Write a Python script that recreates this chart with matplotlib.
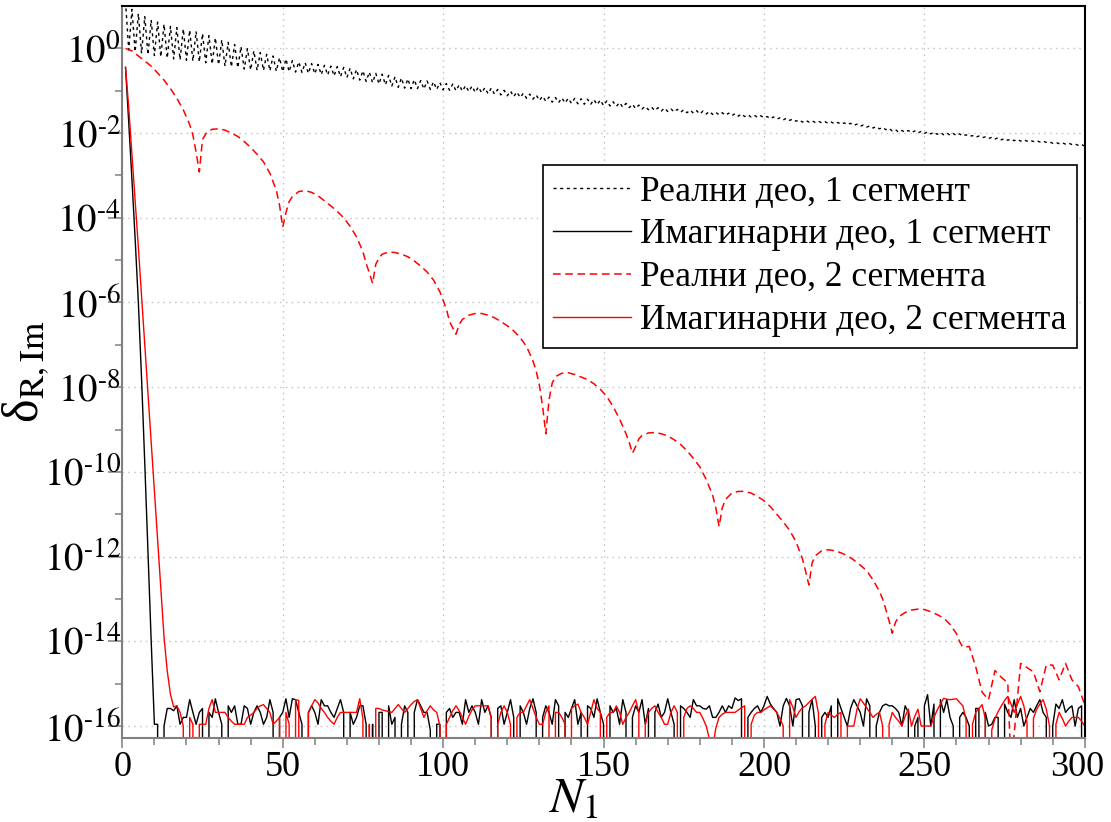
import numpy as np
import matplotlib
matplotlib.use("Agg")
import matplotlib.pyplot as plt
from matplotlib.ticker import FixedLocator, FuncFormatter, NullFormatter, MultipleLocator
from matplotlib.transforms import ScaledTranslation

plt.rcParams['font.family'] = ['Liberation Serif', 'DejaVu Serif']
plt.rcParams['mathtext.fontset'] = 'stix'

# Real part, 1 segment: log10 of delta for N = 1..300
re_1seg_log = [
    1.10, -0.04, 0.92, -0.08, 0.82, -0.12, 0.75, -0.15, 0.67, -0.17,
    0.62, -0.20, 0.57, -0.23, 0.52, -0.25, 0.49, -0.27, 0.46, -0.28,
    0.43, -0.30, 0.40, -0.32, 0.35, -0.34, 0.30, -0.37, 0.25, -0.39,
    0.20, -0.42, 0.14, -0.44, 0.09, -0.46, 0.04, -0.49, -0.01, -0.51,
    -0.06, -0.52, -0.10, -0.52, -0.14, -0.53, -0.18, -0.54, -0.22, -0.55,
    -0.25, -0.55, -0.29, -0.56, -0.32, -0.57, -0.34, -0.59, -0.36, -0.60,
    -0.38, -0.62, -0.40, -0.63, -0.42, -0.65, -0.43, -0.67, -0.45, -0.69,
    -0.47, -0.72, -0.50, -0.75, -0.53, -0.78, -0.56, -0.81, -0.59, -0.84,
    -0.61, -0.86, -0.64, -0.89, -0.67, -0.92, -0.70, -0.94, -0.72, -0.95,
    -0.74, -0.95, -0.76, -0.96, -0.77, -0.97, -0.79, -0.97, -0.81, -0.98,
    -0.83, -0.99, -0.84, -1.00, -0.86, -1.01, -0.88, -1.02, -0.89, -1.04,
    -0.91, -1.05, -0.93, -1.07, -0.94, -1.08, -0.97, -1.10, -0.99, -1.12,
    -1.01, -1.14, -1.03, -1.16, -1.06, -1.18, -1.08, -1.20, -1.10, -1.23,
    -1.13, -1.25, -1.15, -1.27, -1.16, -1.28, -1.17, -1.29, -1.18, -1.30,
    -1.18, -1.31, -1.19, -1.32, -1.20, -1.32, -1.21, -1.33, -1.22, -1.35,
    -1.24, -1.36, -1.26, -1.37, -1.28, -1.39, -1.30, -1.40, -1.32, -1.42,
    -1.34, -1.43, -1.37, -1.45, -1.39, -1.47, -1.40, -1.48, -1.41, -1.49,
    -1.43, -1.50, -1.44, -1.51, -1.45, -1.52, -1.46, -1.53, -1.47, -1.55,
    -1.48, -1.55, -1.49, -1.56, -1.51, -1.57, -1.52, -1.58, -1.53, -1.59,
    -1.54, -1.60, -1.55, -1.61, -1.57, -1.62, -1.58, -1.63, -1.59, -1.64,
    -1.61, -1.66, -1.62, -1.67, -1.64, -1.69, -1.65, -1.70, -1.67, -1.72,
    -1.69, -1.74, -1.70, -1.74, -1.71, -1.75, -1.72, -1.76, -1.73, -1.77,
    -1.74, -1.78, -1.75, -1.79, -1.76, -1.80, -1.77, -1.82, -1.79, -1.84,
    -1.81, -1.86, -1.83, -1.88, -1.85, -1.90, -1.87, -1.92, -1.89, -1.95,
    -1.92, -1.98, -1.94, -1.98, -1.94, -1.99, -1.95, -2.00, -1.96, -2.01,
    -1.97, -2.02, -1.98, -2.03, -1.99, -2.04, -2.00, -2.05, -2.01, -2.06,
    -2.02, -2.07, -2.04, -2.08, -2.06, -2.10, -2.07, -2.11, -2.09, -2.13,
    -2.10, -2.14, -2.11, -2.16, -2.13, -2.17, -2.14, -2.18, -2.15, -2.19,
    -2.16, -2.19, -2.17, -2.20, -2.18, -2.21, -2.19, -2.22, -2.21, -2.24,
    -2.22, -2.25, -2.23, -2.26, -2.24, -2.27, -2.26, -2.29, -2.27, -2.31,
]

# Imaginary part, 1 segment: fast decay (log10, N = 1..9), then round-off floor (x1e-16, N = 10..300)
im_1seg_head_log = [-0.45, -1.75, -3.10, -4.50, -6.00, -7.80, -9.80, -11.90, -14.00]
im_1seg_floor = [
    1.1, 1.1, 0, 1.0, 2.6, 2.6, 2.3, 3.0, 1.1, 1.6,
    1.6, 4.2, 2.1, 1.1, 2.1, 2.6, 0, 2.1, 1.6, 4.4,
    2.1, 1.1, 0, 3.0, 2.1, 3.0, 1.1, 1.1, 3.0, 2.6,
    1.1, 2.1, 3.0, 2.1, 1.1, 1.6, 4.2, 2.1, 0, 1.6,
    2.1, 4.4, 1.6, 4.4, 4.2, 2.1, 1.1, 0, 2.1, 3.0,
    2.1, 1.1, 4.2, 3.0, 3.0, 2.1, 1.6, 2.6, 4.2, 2.1,
    0, 2.1, 1.1, 1.6, 3.0, 3.0, 1.1, 0, 1.1, 0,
    2.1, 2.1, 0, 3.0, 1.1, 1.6, 0, 1.1, 3.0, 2.1,
    0, 2.1, 4.2, 3.0, 2.1, 2.1, 0.8, 0, 1.1, 1.1,
    0, 2.1, 2.6, 1.6, 2.1, 2.1, 1.1, 4.2, 2.1, 3.0,
    2.1, 1.1, 4.2, 2.1, 3.0, 1.6, 0, 2.6, 3.0, 1.1,
    2.1, 4.2, 1.6, 0, 3.0, 2.1, 1.1, 2.6, 4.4, 2.1,
    0, 1.6, 3.0, 2.1, 1.1, 4.2, 3.0, 0, 2.1, 1.6,
    2.6, 4.2, 1.1, 2.1, 0, 3.0, 2.6, 1.6, 4.4, 2.1,
    1.1, 0, 3.0, 2.1, 2.6, 1.1, 4.2, 2.1, 0, 1.6,
    3.0, 2.1, 4.2, 1.1, 2.6, 0, 2.1, 3.3, 1.6, 2.1,
    4.4, 2.1, 1.1, 0, 3.0, 2.6, 2.1, 1.6, 4.2, 3.0,
    3.0, 2.6, 2.5, 3.0, 1.6, 1.6, 2.1, 3.0, 2.1, 3.0,
    2.6, 4.6, 4.0, 4.4, 0, 1.6, 2.1, 2.6, 3.0, 2.1,
    3.0, 5.0, 3.3, 2.6, 2.1, 1.0, 3.0, 4.5, 3.0, 1.0,
    4.2, 4.4, 3.0, 0, 2.1, 4.2, 1.0, 0, 1.6, 2.1,
    1.6, 3.0, 0, 4.4, 2.6, 1.6, 1.0, 2.6, 4.2, 3.0,
    2.1, 1.0, 4.4, 3.0, 0, 1.0, 2.1, 3.0, 3.3, 3.0,
    3.0, 2.6, 2.1, 1.0, 3.0, 2.1, 0, 1.0, 1.6, 0,
    3.0, 5.5, 1.0, 3.3, 0, 4.2, 2.1, 4.2, 1.6, 1.0,
    0, 1.6, 2.1, 1.6, 1.0, 0, 2.6, 2.6, 0, 2.1,
    1.0, 1.1, 1.6, 1.6, 0, 3.3, 2.1, 1.6, 4.2, 1.6,
    2.6, 1.0, 1.6, 2.6, 2.1, 3.0, 4.2, 2.1, 1.6, 0,
    1.0, 3.3, 2.6, 4.2, 2.1, 2.6, 3.0, 1.0, 2.6, 3.0,
    0,
]

# Real part, 2 segments: sampled N and log10 values
re_2seg_n = [
    1, 3, 5, 7, 9, 11, 13, 15, 17, 19, 21, 22, 23, 24, 25, 26, 27, 28, 30, 32,
    34, 36, 38, 40, 42, 44, 46, 48, 49, 50, 51, 52, 53, 55, 57, 59, 61, 63, 65, 67,
    69, 71, 73, 75, 76, 77, 78, 79, 80, 81, 83, 85, 87, 89, 91, 93, 95, 97, 99, 101,
    102, 103, 104, 105, 106, 108, 110, 112, 114, 116, 118, 120, 122, 124, 126, 128, 129, 130, 131, 132,
    133, 134, 135, 137, 139, 141, 143, 145, 147, 149, 151, 153, 155, 157, 158, 159, 160, 161, 162, 164,
    166, 168, 170, 172, 174, 176, 178, 180, 182, 184, 185, 186, 187, 188, 190, 192, 194, 196, 198, 200,
    202, 204, 206, 208, 210, 211, 212, 213, 214, 215, 216, 218, 220, 222, 224, 226, 228, 230, 232, 234,
    236, 237, 238, 239, 240, 241, 242, 244, 246, 248, 250, 252, 254, 256, 258, 260, 261, 262, 264, 266,
    268, 270, 272, 274, 276, 277, 280, 282, 284, 286, 288, 290, 292, 294, 296, 298, 300,
]
re_2seg_log = [
    0.00, -0.06, -0.18, -0.30, -0.42, -0.58, -0.75, -0.95, -1.18, -1.45, -1.80, -2.05, -2.45, -2.92, -2.15, -2.02, -1.95, -1.91, -1.90, -1.93,
    -2.00, -2.08, -2.20, -2.34, -2.50, -2.68, -2.95, -3.35, -3.70, -4.22, -3.88, -3.62, -3.50, -3.38, -3.36, -3.40, -3.48, -3.60, -3.72, -3.85,
    -4.00, -4.20, -4.45, -4.80, -5.08, -5.30, -5.55, -5.10, -4.95, -4.86, -4.81, -4.82, -4.86, -4.92, -5.02, -5.14, -5.28, -5.47, -5.75, -6.15,
    -6.45, -6.60, -6.75, -6.52, -6.40, -6.30, -6.26, -6.26, -6.30, -6.36, -6.45, -6.55, -6.67, -6.83, -7.04, -7.38, -7.62, -7.95, -8.45, -9.10,
    -8.30, -7.90, -7.75, -7.67, -7.66, -7.70, -7.76, -7.82, -7.92, -8.05, -8.22, -8.46, -8.75, -9.10, -9.30, -9.56, -9.40, -9.22, -9.14, -9.08,
    -9.07, -9.10, -9.15, -9.24, -9.35, -9.50, -9.68, -9.88, -10.18, -10.55, -10.85, -11.29, -10.85, -10.65, -10.50, -10.46, -10.46, -10.50, -10.58, -10.68,
    -10.82, -11.00, -11.18, -11.38, -11.65, -11.85, -12.05, -12.35, -12.67, -12.15, -11.98, -11.86, -11.84, -11.86, -11.91, -11.98, -12.08, -12.20, -12.33, -12.55,
    -12.82, -13.00, -13.25, -13.52, -13.81, -13.55, -13.42, -13.32, -13.26, -13.24, -13.25, -13.30, -13.37, -13.45, -13.60, -13.82, -14.01, -14.14, -14.12, -14.60,
    -15.20, -15.38, -14.69, -14.85, -14.98, -17.00, -14.52, -14.62, -14.72, -15.19, -14.56, -14.56, -14.91, -14.52, -14.91, -15.07, -15.50,
]

# Imaginary part, 2 segments: decay (log10, N = 1..16), then floor (x1e-16, N = 17..300)
im_2seg_head_log = [-0.45, -1.40, -2.50, -3.60, -4.70, -5.85, -7.00, -8.15, -9.30, -10.45,
                    -11.60, -12.75, -13.90, -14.70, -15.25, -15.55]
im_2seg_floor = [
    3.0, 2.1, 1.0, 0, 1.6, 1.1, 0, 1.1, 1.1, 1.1,
    2.6, 4.2, 2.1, 2.1, 2.1, 2.1, 1.6, 1.3, 1.1, 1.1,
    1.1, 1.1, 1.6, 1.8, 2.1, 2.6, 3.0, 3.2, 2.6, 2.1,
    1.1, 1.3, 1.6, 0, 2.1, 1.1, 0, 4.2, 4.0, 0,
    0, 2.0, 3.0, 4.2, 3.5, 2.6, 2.1, 1.6, 1.3, 1.1,
    1.6, 2.1, 2.1, 2.1, 2.1, 2.1, 2.1, 4.4, 1.5, 0,
    1.1, 0, 2.6, 2.6, 2.4, 2.3, 2.2, 2.1, 2.6, 3.2,
    2.6, 2.1, 2.6, 3.2, 3.8, 4.2, 2.6, 1.6, 2.3, 3.0,
    2.4, 2.1, 1.0, 0, 1.1, 1.6, 2.3, 3.0, 2.3, 1.6,
    1.1, 1.7, 2.4, 3.0, 3.0, 3.0, 3.0, 3.0, 1.5, 0, 1.1,
    2.1, 3.0, 2.1, 1.1, 0, 1.6, 2.1, 2.1, 3.0, 4.2,
    2.6, 1.6, 1.1, 1.1, 2.1, 3.0, 0, 2.1, 2.1, 1.6,
    1.1, 0, 2.6, 3.0, 3.3, 2.1, 1.6, 1.1, 2.1, 4.2,
    2.6, 2.1, 0, 1.6, 2.1, 2.1, 3.0, 2.1, 1.1, 1.6,
    2.1, 3.0, 4.2, 2.1, 0, 1.1, 2.1, 2.6, 3.0, 2.1,
    1.6, 1.1, 1.1, 2.1, 3.0, 2.1, 0, 1.6, 2.6, 3.0,
    2.6, 2.1,
    2.1, 1.5, 1.0, 0.5, 0.3, 0.9, 1.6, 1.9, 2.1, 2.1,
    2.1, 2.1, 2.4, 2.7, 3.0, 0, 1.1, 1.8, 2.1, 2.1,
    2.4, 2.7, 3.0, 2.5, 2.1, 1.5, 1.0, 0, 4.2, 2.8,
    1.6, 2.2, 2.7, 3.0, 3.6, 4.3, 5.0, 2.0, 0, 1.1,
    2.1, 1.8, 1.6, 1.9, 2.1, 0, 1.0, 1.0, 1.0, 2.5,
    4.4, 3.5, 2.7, 2.1, 1.6, 1.9, 2.1, 1.0, 0, 1.1,
    2.1, 1.6, 1.3, 1.0, 1.7, 2.5, 1.0, 1.7, 2.5, 1.0,
    1.0, 1.0, 1.0, 1.6, 2.4, 3.3, 4.5, 4.3, 4.2, 4.3,
    4.4, 3.6, 3.0, 1.4, 0, 1.1, 2.1, 2.6, 3.2, 1.5,
    0, 0.8, 1.5, 2.2, 3.0, 4.0, 5.0, 3.3, 2.1, 3.3,
    5.0, 3.0, 1.2, 0, 1.5, 2.5, 3.3, 4.2, 2.5, 1.0,
    0, 1.1, 2.1, 1.5, 1.0, 1.3, 1.6, 1.6, 1.6, 1.3,
    1.0,
]

labels = ['Реални део, 1 сегмент', 'Имагинарни део, 1 сегмент',
          'Реални део, 2 сегмента', 'Имагинарни део, 2 сегмента']

# assemble series
re1_n = np.arange(1, len(re_1seg_log) + 1)
re1 = 10.0 ** np.array(re_1seg_log)
im1 = np.concatenate([10.0 ** np.array(im_1seg_head_log), np.array(im_1seg_floor) * 1e-16])
im1_n = np.arange(1, len(im1) + 1)
re2 = 10.0 ** np.array(re_2seg_log)
im2 = np.concatenate([10.0 ** np.array(im_2seg_head_log), np.array(im_2seg_floor) * 1e-16])
im2_n = np.arange(1, len(im2) + 1)

fig = plt.figure(figsize=(11.11, 8.22), dpi=100)
ax = fig.add_axes([0.1101, 0.1018, 0.8663, 0.8909])
ax.set_yscale('log', nonpositive='clip')

ax.plot(re1_n, re1, color='black', lw=1.0, ls=(0, (2.2, 2.6)), label=labels[0])
ax.plot(im1_n, im1, color='black', lw=1.0, ls='-', label=labels[1])
ax.plot(re_2seg_n, re2, color='#ff0000', lw=1.1, ls=(0, (5, 3)), label=labels[2])
ax.plot(im2_n, im2, color='#ff0000', lw=1.0, ls='-', label=labels[3])

ax.set_xlim(0, 300)
ax.set_ylim(10 ** -16.29, 10 ** 1.0)


def decade_label(v, pos):
    k = int(round(np.log10(v)))
    exp = str(k) if k >= 0 else '\u2010' + str(-k)
    return r'$10^{%s}$' % exp


ax.xaxis.set_major_locator(FixedLocator([0, 50, 100, 150, 200, 250, 300]))
ax.xaxis.set_minor_locator(MultipleLocator(10))
ax.yaxis.set_major_locator(FixedLocator([10.0 ** -k for k in range(0, 17, 2)]))
ax.yaxis.set_minor_locator(FixedLocator([10.0 ** -k for k in range(1, 16, 2)]))
ax.yaxis.set_major_formatter(FuncFormatter(decade_label))
ax.yaxis.set_minor_formatter(NullFormatter())

ax.tick_params(axis='y', which='major', length=10, width=1.1, color='#808080',
               labelsize=28, pad=-9)
ax.tick_params(axis='y', which='minor', length=5, width=1.1, color='#808080')
ax.tick_params(axis='x', which='major', length=7, width=1.1, color='#808080',
               labelsize=26, pad=2)
ax.tick_params(axis='x', which='minor', length=5, width=1.1, color='#808080')

ax.grid(True, which='major', color='#c8c8c8', ls=(0, (1.2, 3)), lw=1.0)

for side in ['left', 'bottom']:
    ax.spines[side].set_color('#808080')
    ax.spines[side].set_linewidth(1.5)
for side in ['top', 'right']:
    ax.spines[side].set_color('black')
    ax.spines[side].set_linewidth(1.5)

ax.set_ylabel(r'δ$_{\mathrm{R,Im}}$', fontsize=36)
ax.yaxis.set_label_coords(-0.073, 0.50)
ax.set_xlabel(r'$N_1$', fontsize=36)
ax.xaxis.set_label_coords(0.468, -0.052)

leg = ax.legend(loc='upper right', bbox_to_anchor=(0.992, 0.783), borderaxespad=0,
                fontsize=25.5, frameon=True, fancybox=False, framealpha=1,
                edgecolor='black', handlelength=2.2, handletextpad=0.25,
                labelspacing=0.28, borderpad=0.3)
leg.get_frame().set_linewidth(1.2)

# keep the "300" label inside the figure, as in the original
fig.canvas.draw()
for tick in ax.xaxis.get_major_ticks():
    if tick.label1.get_text() == '300':
        tick.label1.set_transform(tick.label1.get_transform()
                                  + ScaledTranslation(-0.08, 0, fig.dpi_scale_trans))

fig.savefig('out.png', dpi=100)
